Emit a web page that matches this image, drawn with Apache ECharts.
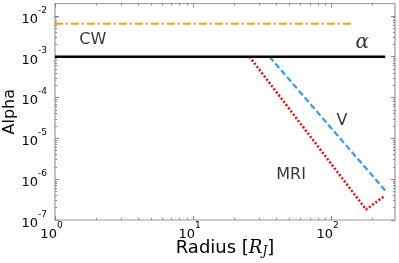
<!DOCTYPE html>
<html><head><meta charset="utf-8">
<script src="https://cdn.jsdelivr.net/npm/echarts@6/dist/echarts.min.js"></script>
<style>html,body{margin:0;padding:0;background:#fff}#c{width:399px;height:263px}</style>
</head><body><div id="c"></div>
<script>
// ---- data ----
const cwX = [1, 143];
const cwY = [6.4e-3, 6.4e-3];
const alphaX = [1, 246];
const alphaY = [1e-3, 1e-3];
const vX = [35.7, 246];
const vY = [1e-3, 5.3e-7];
const mriX = [25.6, 179, 243];
const mriY = [1e-3, 1.8e-7, 3.85e-7];
const xMajorTicks = [1, 10, 100];
const yMajorTicks = [1e-7, 1e-6, 1e-5, 1e-4, 1e-3, 1e-2];
const xMinorTicks = [2,3,4,5,6,7,8,9,20,30,40,50,60,70,80,90,200];
const yMinorTicks = [];
[1e-7,1e-6,1e-5,1e-4,1e-3,1e-2].forEach(d => { for (let k = 2; k <= 9; k++) { const v = k * d; if (v < 0.02) yMinorTicks.push(v); } });
const annoText = ['CW', 'α', 'V', 'MRI'];
const annoX = [1.88, 168, 120, 51.3];
const annoY = [2.55e-3, 2.16e-3, 2.7e-5, 1.3e-6];

const pairs = (xs, ys) => xs.map((x, i) => [x, ys[i]]);
const FONT = 'DejaVu Sans';
const tickColor = '#888';
const labelFmt = v => '{b|10}{s|' + Math.round(Math.log10(v)) + '}';
const richLab = {
  b: { fontSize: 13, lineHeight: 20, fontFamily: FONT, color: '#000', verticalAlign: 'bottom' },
  s: { fontSize: 9, lineHeight: 9, fontFamily: FONT, color: '#000', verticalAlign: 'top' }
};
function mkAxis(kind, pos, major, values, min, max, extra) {
  const a = {
    type: 'log', logBase: 10, min: min, max: max, position: pos, gridIndex: 0,
    axisLine: { show: false },
    splitLine: { show: false },
    axisTick: { show: true, inside: true, length: major ? 4 : 2, customValues: values, lineStyle: { color: tickColor, width: 1 } },
    axisLabel: { show: false }
  };
  return Object.assign(a, extra || {});
}
const xMin = 1, xMax = 290, yMin = 1e-7, yMax = 0.02;
const option = {
  animation: false,
  backgroundColor: '#fff',
  grid: { left: 55, right: 4, top: 3.5, bottom: 43, containLabel: false, outerBoundsMode: 'none',
          show: true, borderColor: '#999', borderWidth: 1.2, backgroundColor: 'transparent' },
  xAxis: [
    mkAxis('x', 'bottom', true, xMajorTicks, xMin, xMax, {
      name: 'Radius [{i|R}{sub|J}]', nameLocation: 'middle', nameGap: 19, nameMoveOverlap: false,
      nameTextStyle: { fontFamily: FONT, fontSize: 18, color: '#000', align: 'center',
        rich: { i: { fontFamily: 'DejaVu Serif', fontStyle: 'italic', fontSize: 18, color: '#000' },
                sub: { fontFamily: 'DejaVu Serif', fontStyle: 'italic', fontSize: 12, color: '#000', verticalAlign: 'bottom', padding: [7, 0, 0, 0] } } },
      axisLabel: { show: true, customValues: xMajorTicks, formatter: labelFmt, rich: richLab, margin: 1, align: 'center', padding: [0, 7, 0, 0] }
    }),
    mkAxis('x', 'bottom', false, xMinorTicks, xMin, xMax),
    mkAxis('x', 'top', true, xMajorTicks, xMin, xMax),
    mkAxis('x', 'top', false, xMinorTicks, xMin, xMax)
  ],
  yAxis: [
    mkAxis('y', 'left', true, yMajorTicks, yMin, yMax, {
      name: 'Alpha', nameLocation: 'middle', nameGap: 37, nameRotate: 90, nameMoveOverlap: false,
      nameTextStyle: { fontFamily: FONT, fontSize: 16, color: '#000' },
      axisLabel: { show: true, customValues: yMajorTicks, formatter: labelFmt, rich: richLab, margin: 8, align: 'right' }
    }),
    mkAxis('y', 'left', false, yMinorTicks, yMin, yMax),
    mkAxis('y', 'right', true, yMajorTicks, yMin, yMax),
    mkAxis('y', 'right', false, yMinorTicks, yMin, yMax)
  ],
  series: [
    { type: 'line', name: 'CW', data: pairs(cwX, cwY), symbol: 'none', z: 3,
      lineStyle: { color: '#FFA500', width: 2, type: [8, 3, 2, 3] } },
    { type: 'line', name: 'V', data: pairs(vX, vY), symbol: 'none', z: 3,
      lineStyle: { color: '#3399FF', width: 2.2, type: [6, 3] } },
    { type: 'line', name: 'MRI', data: pairs(mriX, mriY), symbol: 'none', z: 3,
      lineStyle: { color: '#FF0000', width: 2.5, type: [2, 2] } },
    { type: 'line', name: 'alpha', data: pairs(alphaX, alphaY), symbol: 'none', z: 4,
      lineStyle: { color: '#000', width: 2.5, type: 'solid' } },
    { type: 'scatter', name: 'labels', symbolSize: 0, z: 5,
      data: annoText.map((t, i) => ({
        value: [annoX[i], annoY[i]],
        label: t === 'α'
          ? { show: true, position: 'inside', formatter: t, fontFamily: 'DejaVu Serif', fontStyle: 'italic', fontSize: 20, color: '#000' }
          : { show: true, position: 'inside', formatter: t, fontFamily: FONT, fontSize: 16, color: '#000' }
      })) }
  ]
};
const chart = echarts.init(document.getElementById('c'), null, { renderer: 'canvas' });
chart.setOption(option);
</script></body></html>
